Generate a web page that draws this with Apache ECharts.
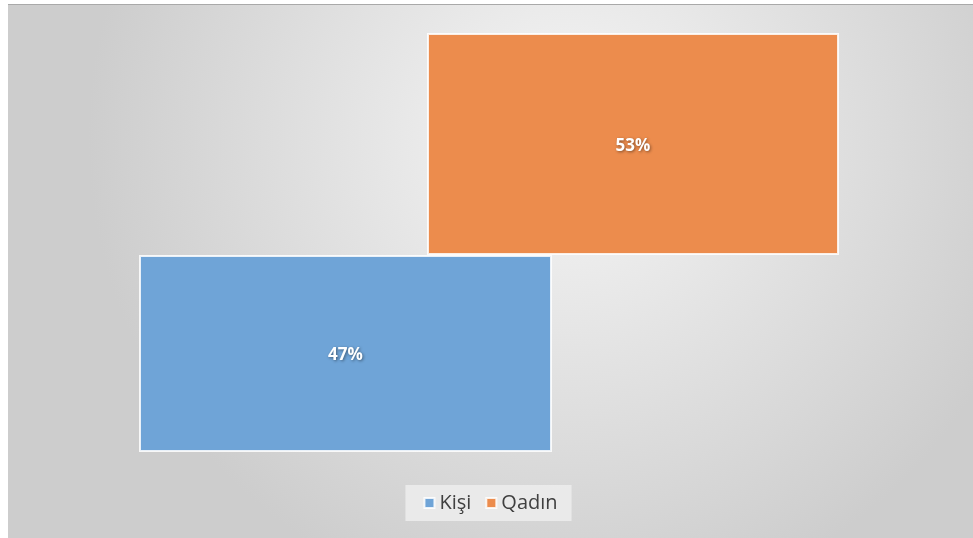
<!DOCTYPE html>
<html>
<head>
<meta charset="utf-8">
<script src="https://cdn.jsdelivr.net/npm/echarts@6/dist/echarts.min.js"></script>
<style>
  html, body { margin: 0; padding: 0; background: #fff; }
  #chartContainer {
    position: absolute; left: 8px; top: 4px; width: 965px; height: 534px;
    border-top: 1px solid #a9a9a9; box-sizing: border-box;
  }
</style>
</head>
<body>
<div id="chartContainer"></div>
<script>
// Chart data
const seriesNames = ['Kişi', 'Qadın'];
const kisiValues = [47];
const qadinValues = [53];

// invisible base so the second bar starts where the first one ends
const baseValues = [kisiValues[0]];

const myChart = echarts.init(document.getElementById('chartContainer'));

const barBorder = { borderColor: 'rgba(255,255,255,0.85)', borderWidth: 2 };
const labelStyle = {
    show: true,
    position: 'inside',
    offset: [0, 2],
    color: '#fff',
    fontFamily: 'Open Sans',
    fontWeight: 'bold',
    fontSize: 17,
    textShadowColor: 'rgba(0,0,0,0.45)',
    textShadowBlur: 3,
    textShadowOffsetX: 1,
    textShadowOffsetY: 1,
    formatter: p => p.value + '%'
};

// each bar sits in its own grid; both grids share the same 0-100 y scale
const option = {
    backgroundColor: {
        type: 'radial', x: 0.58, y: 0.25, r: 0.9,
        colorStops: [
            { offset: 0, color: '#f6f6f6' },
            { offset: 1, color: '#cdcdcd' }
        ]
    },
    grid: [
        { left: 131, width: 413, top: 28, bottom: 86 },
        { left: 419, width: 412, top: 28, bottom: 86 }
    ],
    legend: {
        data: seriesNames,
        bottom: 17,
        left: 'center',
        itemWidth: 10,
        itemHeight: 10,
        itemGap: 14,
        padding: [8, 14, 8, 18],
        backgroundColor: 'rgba(236,236,236,0.9)',
        textStyle: { fontFamily: 'Open Sans', fontSize: 20, color: '#404040' },
        icon: 'rect'
    },
    xAxis: [
        { type: 'category', gridIndex: 0, data: [seriesNames[0]], show: false },
        { type: 'category', gridIndex: 1, data: [seriesNames[1]], show: false }
    ],
    yAxis: [
        { type: 'value', gridIndex: 0, min: 0, max: 100, show: false },
        { type: 'value', gridIndex: 1, min: 0, max: 100, show: false }
    ],
    series: [
        {
            name: 'Kişi',
            type: 'bar',
            xAxisIndex: 0,
            yAxisIndex: 0,
            barWidth: '100%',
            data: kisiValues,
            itemStyle: Object.assign({ color: '#6fa4d7' }, barBorder),
            label: labelStyle
        },
        {
            name: 'base',
            type: 'bar',
            stack: 'total',
            xAxisIndex: 1,
            yAxisIndex: 1,
            barWidth: '100%',
            data: baseValues,
            itemStyle: { color: 'transparent' },
            silent: true
        },
        {
            name: 'Qadın',
            type: 'bar',
            stack: 'total',
            xAxisIndex: 1,
            yAxisIndex: 1,
            barWidth: '100%',
            data: qadinValues,
            itemStyle: Object.assign({ color: '#ec8c4d' }, barBorder),
            label: labelStyle
        }
    ]
};

myChart.setOption(option);
</script>
</body>
</html>
